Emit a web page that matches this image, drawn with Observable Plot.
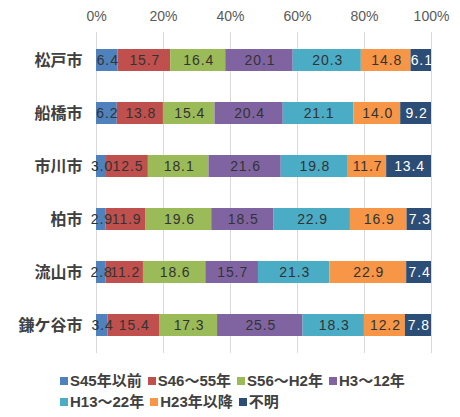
<!DOCTYPE html>
<html>
<head>
<meta charset="utf-8">
<script src="https://cdn.jsdelivr.net/npm/d3@7"></script>
<script src="https://cdn.jsdelivr.net/npm/@observablehq/plot@0.6"></script>
<style>
  body { margin: 0; background: #fff; font-family: "Liberation Sans", "Noto Sans CJK JP", sans-serif; }
  #chart { width: 460px; }
  .legend { display: flex; flex-wrap: wrap; margin-left: 60px; width: 372px; column-gap: 6px; row-gap: 3px;
            font-size: 15px; font-weight: bold; color: #404040; line-height: 18px; margin-top: 12px; }
  .item { display: flex; align-items: center; gap: 2px; white-space: nowrap; }
  .sw { width: 8px; height: 8px; display: inline-block; }
  g[aria-label="text"] text { letter-spacing: 0.9px; }
</style>
</head>
<body>
<div id="chart"></div>
<script>
// Cities (top to bottom) and construction periods
const cities = ["松戸市", "船橋市", "市川市", "柏市", "流山市", "鎌ケ谷市"];
const periods = ["S45年以前", "S46～55年", "S56～H2年", "H3～12年", "H13～22年", "H23年以降", "不明"];
const colors = ["#4F81BD", "#C0504D", "#9BBB59", "#8064A2", "#4BACC6", "#F79646", "#2C4D75"];

// Share (%) of each period, one array per city, in period order
const matsudo    = [6.4, 15.7, 16.4, 20.1, 20.3, 14.8, 6.1];
const funabashi  = [6.2, 13.8, 15.4, 20.4, 21.1, 14.0, 9.2];
const ichikawa   = [3.0, 12.5, 18.1, 21.6, 19.8, 11.7, 13.4];
const kashiwa    = [2.9, 11.9, 19.6, 18.5, 22.9, 16.9, 7.3];
const nagareyama = [2.8, 11.2, 18.6, 15.7, 21.3, 22.9, 7.4];
const kamagaya   = [3.4, 15.4, 17.3, 25.5, 18.3, 12.2, 7.8];

const xTicks = [0, 20, 40, 60, 80, 100];

const series = [matsudo, funabashi, ichikawa, kashiwa, nagareyama, kamagaya];
const rows = [];
cities.forEach((city, i) => {
  series[i].forEach((v, j) => rows.push({ city, period: periods[j], value: v }));
});

const stack = { x: "value", y: "city", z: "period", order: periods, offset: "normalize" };

const chart = Plot.plot({
  width: 460,
  height: 360,
  marginTop: 32,
  marginBottom: 7,
  marginLeft: 96,
  marginRight: 29,
  style: { fontFamily: "Liberation Sans, Noto Sans CJK JP, sans-serif", background: "#fff" },
  x: { domain: [0, 1], axis: null, label: null },
  y: { domain: cities, axis: null, label: null, paddingInner: 0.59, paddingOuter: 0.295 },
  color: { domain: periods, range: colors },
  marks: [
    Plot.gridX(xTicks.map(t => t / 100), { stroke: "#d9d9d9", strokeOpacity: 1, strokeWidth: 1 }),
    Plot.axisX(xTicks.map(t => t / 100), {
      anchor: "top", label: null, tickSize: 0, tickPadding: 12, fontSize: 14, fill: "#595959",
      tickFormat: d => Math.round(d * 100) + "%"
    }),
    Plot.axisY({ label: null, tickSize: 0, tickPadding: 14, fontSize: 16, fontWeight: "bold", fill: "#404040",
      fontFamily: "Noto Sans CJK JP" }),
    Plot.barX(rows, Plot.stackX({ ...stack, fill: "period", inset: 0 })),
    Plot.text(rows, Plot.stackX({
      ...stack,
      text: d => d.value.toFixed(1),
      fill: d => d.period === "不明" ? "#ffffff" : "#333333",
      fontSize: 14,
      dx: 0.5,
      fontWeight: d => d.period === "不明" ? "bold" : "normal"
    }))
  ]
});
document.getElementById("chart").append(chart);

// Legend below the chart
const legend = document.createElement("div");
legend.className = "legend";
periods.forEach((p, i) => {
  const item = document.createElement("span");
  item.className = "item";
  const sw = document.createElement("span");
  sw.className = "sw";
  sw.style.background = colors[i];
  item.append(sw, document.createTextNode(p));
  legend.append(item);
});
document.getElementById("chart").append(legend);
</script>
</body>
</html>
